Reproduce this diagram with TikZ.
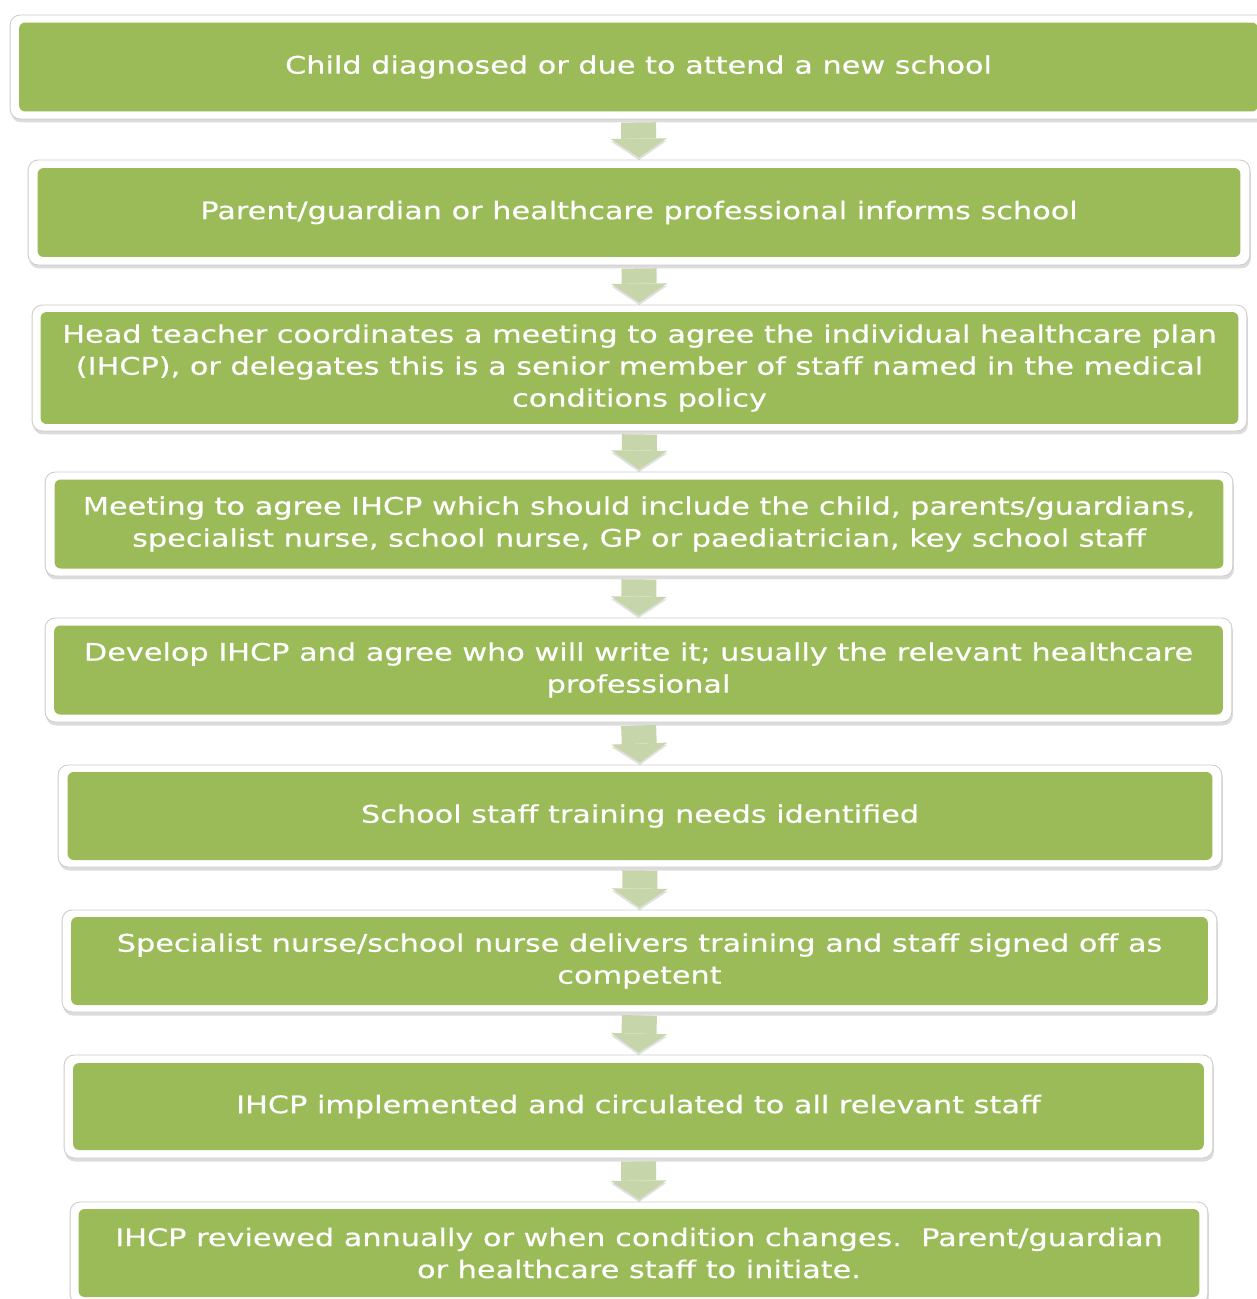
\documentclass[tikz,border=0pt]{standalone}
\usepackage{fontspec}
\setmainfont[FakeStretch=1.25, FakeBold=0.4]{DejaVu Sans}
\usetikzlibrary{arrows.meta,shadows}
\definecolor{stepgreen}{RGB}{155,187,89}
\definecolor{arrowgreen}{RGB}{199,214,170}
\tikzset{
	stepframe/.style={draw=black!20, fill=white, line width=0.5pt, rounded corners=0.2cm, inner sep=0pt,
		drop shadow={shadow xshift=0.02cm, shadow yshift=-0.07cm, opacity=0.28}},
	stepbox/.style={fill=stepgreen, rounded corners=0.12cm, inner sep=0pt, text=white, align=center,
		font=\fontsize{13.8}{18.2}\selectfont},
	flowarrow/.style={draw=arrowgreen, line width=0.7cm, -{Triangle[width=1.12cm, length=0.38cm, line width=0pt]},
		shorten <=0.06cm, shorten >=0.04cm,
		preaction={draw=black, opacity=0.12, transform canvas={yshift=-0.05cm}}}
}
\begin{document}
\begin{tikzpicture}[x=0.02cm, y=-0.02cm]
	\useasboundingbox (0,0) rectangle (1257,1299);
	\node[stepframe, minimum width=25.14cm, minimum height=2.08cm] (f1) at (638.5,67) {};
	\node[stepbox, minimum width=24.78cm, minimum height=1.78cm] (s1) at (f1) {Child diagnosed or due to attend a new school};
	\node[stepframe, minimum width=24.44cm, minimum height=2.1cm] (f2) at (639,212.5) {};
	\node[stepbox, minimum width=24.06cm, minimum height=1.78cm] (s2) at (f2) {Parent/guardian or healthcare professional informs school};
	\node[stepframe, minimum width=24.3cm, minimum height=2.52cm] (f3) at (639.5,368) {};
	\node[stepbox, minimum width=23.96cm, minimum height=2.24cm] (s3) at (f3) {Head teacher coordinates a meeting to agree the individual healthcare plan\\(IHCP), or delegates this is a senior member of staff named in the medical\\conditions policy};
	\node[stepframe, minimum width=23.76cm, minimum height=2.08cm] (f4) at (639,524) {};
	\node[stepbox, minimum width=23.38cm, minimum height=1.78cm] (s4) at (f4) {Meeting to agree IHCP which should include the child, parents/guardians,\\specialist nurse, school nurse, GP or paediatrician, key school staff};
	\node[stepframe, minimum width=23.74cm, minimum height=2.08cm] (f5) at (638.5,670) {};
	\node[stepbox, minimum width=23.38cm, minimum height=1.78cm] (s5) at (f5) {Develop IHCP and agree who will write it; usually the relevant healthcare\\professional};
	\node[stepframe, minimum width=23.28cm, minimum height=2.04cm] (f6) at (640,816) {};
	\node[stepbox, minimum width=22.9cm, minimum height=1.76cm] (s6) at (f6) {School staff training needs identified};
	\node[stepframe, minimum width=23.1cm, minimum height=2.04cm] (f7) at (639.5,961) {};
	\node[stepbox, minimum width=22.74cm, minimum height=1.76cm] (s7) at (f7) {Specialist nurse/school nurse delivers training and staff signed off as\\competent};
	\node[stepframe, minimum width=22.98cm, minimum height=2.06cm] (f8) at (638.5,1106.5) {};
	\node[stepbox, minimum width=22.62cm, minimum height=1.74cm] (s8) at (f8) {IHCP implemented and circulated to all relevant staff};
	\node[stepframe, minimum width=22.76cm, minimum height=2.04cm] (f9) at (639,1253) {};
	\node[stepbox, minimum width=22.42cm, minimum height=1.76cm] (s9) at (f9) {IHCP reviewed annually or when condition changes.\ \ Parent/guardian\\or healthcare staff to initiate.};
	\draw[flowarrow] (f1.south) -- (f2.north);
	\draw[flowarrow] (f2.south) -- (f3.north);
	\draw[flowarrow] (f3.south) -- (f4.north);
	\draw[flowarrow] (f4.south) -- (f5.north);
	\draw[flowarrow] (f5.south) -- (f6.north);
	\draw[flowarrow] (f6.south) -- (f7.north);
	\draw[flowarrow] (f7.south) -- (f8.north);
	\draw[flowarrow] (f8.south) -- (f9.north);
\end{tikzpicture}
\end{document}
